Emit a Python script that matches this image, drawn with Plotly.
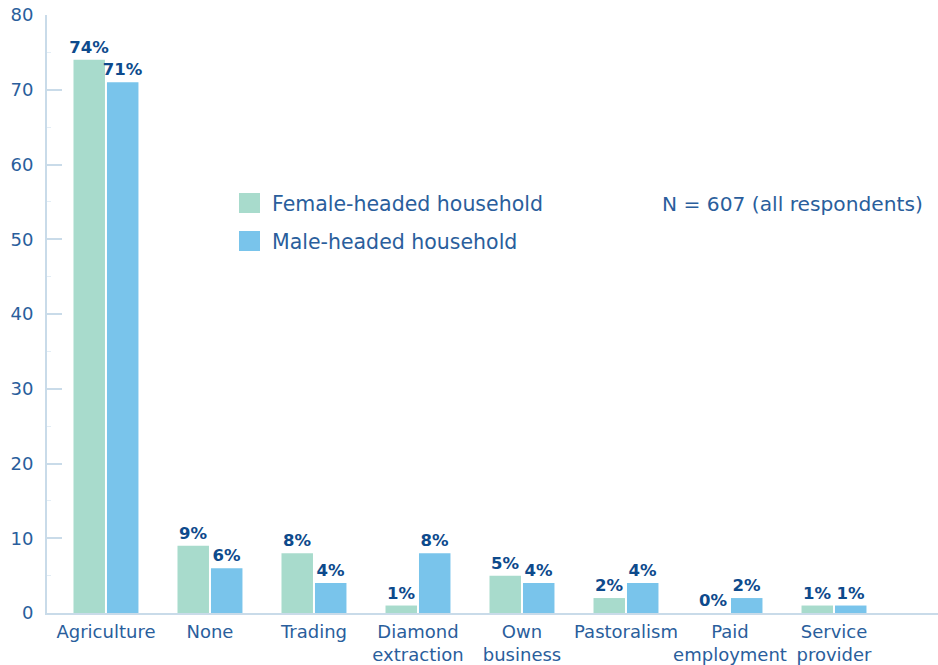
import plotly.graph_objects as go

# Main livelihood activity by household head
categories = ["Agriculture", "None", "Trading", "Diamond<br>extraction", "Own<br>business",
              "Pastoralism", "Paid<br>employment", "Service<br>provider"]
female_pct = [74, 9, 8, 1, 5, 2, 0, 1]
male_pct = [71, 6, 4, 8, 4, 4, 2, 1]
series_names = ["Female-headed household", "Male-headed household"]
note_text = "N = 607 (all respondents)"
y_ticks = [0, 10, 20, 30, 40, 50, 60, 70, 80]

FEMALE_COLOR = "#a8dbcc"
MALE_COLOR = "#79c4eb"
LABEL_COLOR = "#0d4a8c"
TEXT_COLOR = "#2a5e9c"
AXIS_COLOR = "#c9dbe9"
FONT = "DejaVu Sans"

W, H = 938, 665
M_L, M_R, M_T, M_B = 47, 0, 15, 52
PW, PH = W - M_L - M_R, H - M_T - M_B

def px_x(x):
    return (x - M_L) / PW

def px_y(y):
    return 1 - (y - M_T) / PH

xpos = list(range(len(categories)))

fig = go.Figure()
for name, vals, color in [(series_names[0], female_pct, FEMALE_COLOR),
                          (series_names[1], male_pct, MALE_COLOR)]:
    fig.add_trace(go.Bar(
        x=xpos, y=vals, name=name, marker=dict(color=color, line=dict(width=0)),
        text=[f"<b>{v}%</b>" for v in vals], textposition="outside",
        textfont=dict(family=FONT, size=16.5, color=LABEL_COLOR),
        constraintext="none", cliponaxis=False, showlegend=False,
    ))

# Legend drawn as swatches + labels
shapes = []
annotations = []
for i, (name, color) in enumerate([(series_names[0], FEMALE_COLOR), (series_names[1], MALE_COLOR)]):
    top = 193 + i * 38
    shapes.append(dict(type="rect", xref="paper", yref="paper",
                       x0=px_x(239), x1=px_x(260), y0=px_y(top + 20), y1=px_y(top),
                       fillcolor=color, line=dict(width=0)))
    annotations.append(dict(xref="paper", yref="paper", x=px_x(270), y=px_y(top + 11),
                            text=name, showarrow=False, xanchor="left", yanchor="middle",
                            font=dict(family=FONT, size=20.5, color=TEXT_COLOR)))
annotations.append(dict(xref="paper", yref="paper", x=px_x(925), y=px_y(204),
                        text=note_text, showarrow=False, xanchor="right", yanchor="middle",
                        font=dict(family=FONT, size=20.2, color=TEXT_COLOR)))

fig.update_layout(
    width=W, height=H,
    margin=dict(l=M_L, r=M_R, t=M_T, b=M_B),
    paper_bgcolor="white", plot_bgcolor="white",
    barmode="group", bargap=0.356, bargroupgap=0.06,
    shapes=shapes, annotations=annotations,
    font=dict(family=FONT, color=TEXT_COLOR),
    xaxis=dict(
        tickmode="array", tickvals=xpos, ticktext=categories,
        range=[-0.567, 8.0], showgrid=False, zeroline=False,
        showline=True, linecolor=AXIS_COLOR, linewidth=2,
        ticks="", tickangle=0, automargin=False,
        tickfont=dict(family=FONT, size=18, color=TEXT_COLOR),
        ticklabelstandoff=1,
    ),
    yaxis=dict(
        range=[0, 80], tickvals=y_ticks, showgrid=False, zeroline=False,
        showline=True, linecolor=AXIS_COLOR, linewidth=2, automargin=False,
        ticks="inside", ticklen=15, tickcolor=AXIS_COLOR, tickwidth=2,
        tickfont=dict(family=FONT, size=18, color=TEXT_COLOR),
        ticklabelstandoff=8,
        minor=dict(dtick=5, ticks="inside", ticklen=4, tickcolor="#e3edf5", tickwidth=1),
    ),
)

fig.write_html("out.html")
